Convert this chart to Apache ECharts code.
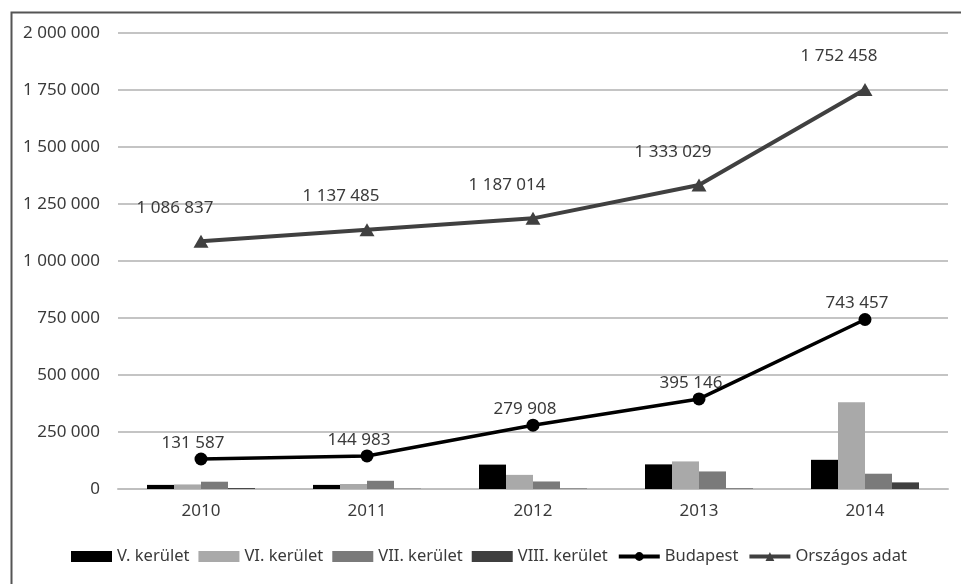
<!DOCTYPE html>
<html>
<head>
<meta charset="utf-8">
<script src="https://cdn.jsdelivr.net/npm/echarts@6/dist/echarts.min.js"></script>
<style>
html,body{margin:0;padding:0;background:#fff;}
#chart{width:961px;height:584px;}
</style>
</head>
<body>
<div id="chart"></div>
<script>
var years = ['2010', '2011', '2012', '2013', '2014'];
var kerV = [18000, 18000, 107000, 108000, 128000];
var kerVI = [20000, 22000, 62000, 121000, 380000];
var kerVII = [32000, 36000, 33000, 77000, 67000];
var kerVIII = [4000, 1000, 1500, 2000, 29000];
var budapest = [131587, 144983, 279908, 395146, 743457];
var orszagos = [1086837, 1137485, 1187014, 1333029, 1752458];
var yMax = 2000000;
var yStep = 250000;

function fmt(v) {
  return String(Math.round(v)).replace(/\B(?=(\d{3})+(?!\d))/g, ' ');
}

var FONT = '"Noto Sans", "Open Sans", sans-serif';
var TXT = '#3a3a3a';

var chart = echarts.init(document.getElementById('chart'), null, {renderer: 'canvas'});

function bar(name, data, color) {
  return {
    name: name, type: 'bar', data: data, barWidth: 27, barGap: '0%',
    itemStyle: {color: color}, z: 2
  };
}

var option = {
  backgroundColor: '#fff',
  animation: false,
  textStyle: {fontFamily: FONT},
  graphic: [{
    type: 'rect', left: 9, top: 10, silent: true,
    shape: {x: 0, y: 0, width: 960, height: 580},
    style: {fill: 'none', stroke: '#555', lineWidth: 2}
  }],
  grid: {left: 118, right: 13, top: 33, bottom: 95, containLabel: false},
  legend: {
    left: 71, top: 548, padding: 0, itemWidth: 41, itemHeight: 11, itemGap: 9,
    textStyle: {fontFamily: FONT, fontSize: 16.5, color: TXT},
    data: [
      {name: 'V. kerület', icon: 'rect'},
      {name: 'VI. kerület', icon: 'rect'},
      {name: 'VII. kerület', icon: 'rect'},
      {name: 'VIII. kerület', icon: 'rect'},
      {name: 'Budapest', lineStyle: {width: 4}},
      {name: 'Országos adat', lineStyle: {width: 4}}
    ]
  },
  xAxis: {
    type: 'category', data: years,
    axisLine: {lineStyle: {color: '#bfbfbf', width: 2}},
    axisTick: {show: false},
    axisLabel: {fontFamily: FONT, fontSize: 17, color: TXT, margin: 14}
  },
  yAxis: {
    type: 'value', min: 0, max: yMax, interval: yStep,
    axisLine: {show: false}, axisTick: {show: false},
    splitLine: {lineStyle: {color: '#c4c4c4', width: 2}},
    axisLabel: {fontFamily: FONT, fontSize: 17, color: TXT, margin: 18, formatter: fmt}
  },
  series: [
    bar('V. kerület', kerV, '#000000'),
    bar('VI. kerület', kerVI, '#a9a9a9'),
    bar('VII. kerület', kerVII, '#7a7a7a'),
    bar('VIII. kerület', kerVIII, '#3f3f3f'),
    {
      name: 'Budapest', type: 'line', data: budapest,
      symbol: 'circle', symbolSize: 13,
      lineStyle: {color: '#000', width: 3.5},
      itemStyle: {color: '#000'},
      z: 5,
      label: {
        show: true, position: 'top', distance: 1, offset: [-8, 0],
        fontFamily: FONT, fontSize: 17, color: TXT, formatter: function (p) { return fmt(p.value); }
      }
    },
    {
      name: 'Országos adat', type: 'line', data: orszagos,
      symbol: 'triangle', symbolSize: [15, 13],
      lineStyle: {color: '#404040', width: 4},
      itemStyle: {color: '#404040'},
      z: 5,
      label: {
        show: true, position: 'top', distance: 18, offset: [-26, 0],
        fontFamily: FONT, fontSize: 17, color: TXT, formatter: function (p) { return fmt(p.value); }
      }
    }
  ]
};
chart.setOption(option);
</script>
</body>
</html>
